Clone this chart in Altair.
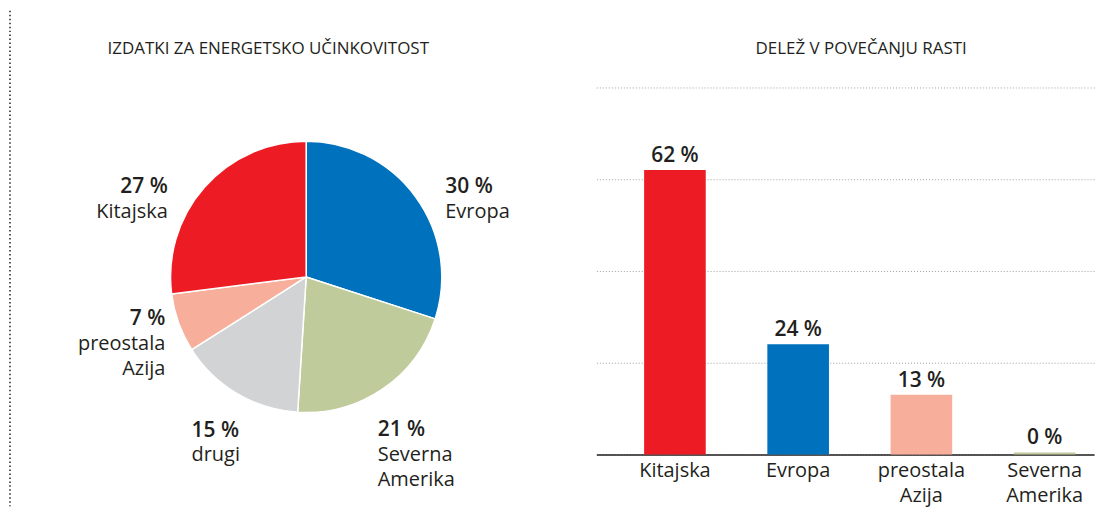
import altair as alt
import pandas as pd

# ---------------- data ----------------
pie_regions = ["Evropa", "Severna Amerika", "drugi", "preostala Azija", "Kitajska"]
pie_values = [30, 21, 15, 7, 27]

bar_regions = ["Kitajska", "Evropa", "preostala Azija", "Severna Amerika"]
bar_values = [62, 24, 13, 0.45]

grid_ticks = [0, 20, 40, 60, 80]

pie_title = "IZDATKI ZA ENERGETSKO UČINKOVITOST"
bar_title = "DELEŽ V POVEČANJU RASTI"

# ---------------- style ----------------
FONT = "Open Sans"
INK = "#231F20"
region_colors = {
    "Kitajska": "#ED1C24",
    "Evropa": "#0071BC",
    "Severna Amerika": "#BFCB9A",
    "drugi": "#D1D3D4",
    "preostala Azija": "#F7AE9B",
}
color_scale = alt.Scale(domain=list(region_colors.keys()), range=list(region_colors.values()))

# label nudges (align, dx, dy) relative to the slice mid-angle at the label radius
label_style = {
    "Evropa": ("left", 6, 13),
    "Severna Amerika": ("left", -21, 23.5),
    "drugi": ("left", -31, 18),
    "preostala Azija": ("right", 14, -7.9),
    "Kitajska": ("right", -15, 25),
}
LABEL_R = 165

pie_df = pd.DataFrame({"region": pie_regions, "value": pie_values,
                       "idx": list(range(len(pie_regions)))})
bar_df = pd.DataFrame({"region": bar_regions, "value": bar_values})

title_style = dict(font=FONT, fontSize=17, fontWeight="normal", color=INK,
                   anchor="middle", frame="group", offset=17, baseline="alphabetic")

# ---------------- left dotted rule ----------------
rule_cell = alt.Chart(pd.DataFrame({"k": [0]})).mark_rule(
    color=INK, strokeWidth=1.5, strokeDash=[1.5, 2.5]
).encode(x=alt.value(0), y=alt.value(-77), y2=alt.value(420)).properties(width=6, height=380)

# ---------------- pie panel ----------------
base = alt.Chart(pie_df).encode(
    theta=alt.Theta("value:Q", stack=True),
    order=alt.Order("idx:Q"),
)
arcs = base.mark_arc(radius=136, stroke="white", strokeWidth=1.5).encode(
    color=alt.Color("region:N", scale=color_scale, legend=None)
)

layers = [arcs]
for reg, (al, dx, dy) in label_style.items():
    pct = base.transform_calculate(
        t=f"datum.region == '{reg}' ? format(datum.value, '.0f') + ' %' : ''"
    ).mark_text(
        radius=LABEL_R, align=al, baseline="alphabetic", dx=dx, dy=dy,
        font=FONT, fontSize=21, fontWeight=600, color=INK,
    ).encode(text="t:N")
    name = base.transform_calculate(
        t=f"datum.region == '{reg}' ? datum.region : ''"
    ).mark_text(
        radius=LABEL_R, align=al, baseline="alphabetic", dx=dx, dy=dy + 25,
        font=FONT, fontSize=20, color=INK, lineBreak=" ", lineHeight=25,
    ).encode(text="t:N")
    layers += [pct, name]

pie = alt.layer(*layers).properties(
    width=582, height=380,
    title=alt.Title(pie_title, dx=-38, **title_style),
)

# ---------------- bar panel ----------------
bar_base = alt.Chart(bar_df).encode(
    x=alt.X("region:N", sort=bar_regions,
            scale=alt.Scale(paddingInner=0.5, paddingOuter=0.269, align=0.72),
            axis=alt.Axis(title=None, labelExpr="split(datum.label, ' ')",
                          labelFont=FONT, labelFontSize=20, labelColor=INK,
                          labelPadding=6, labelLineHeight=25, labelAngle=0,
                          ticks=False, domainColor=INK, domainWidth=1.5)),
    y=alt.Y("value:Q", scale=alt.Scale(domain=[0, 80]),
            axis=alt.Axis(values=grid_ticks, title=None, labels=False, ticks=False,
                          domain=False, grid=True, gridDash=[1, 2],
                          gridColor="#A0A0A0", gridWidth=1)),
)
bars = bar_base.mark_bar().encode(color=alt.Color("region:N", scale=color_scale, legend=None))
bar_text = bar_base.transform_calculate(
    lab="format(datum.value, '.0f') + ' %'"
).mark_text(baseline="alphabetic", dy=-8, font=FONT, fontSize=21, fontWeight=600,
            color=INK).encode(text="lab:N")

bar_chart = alt.layer(bars, bar_text).properties(
    width=499, height=368,
    title=alt.Title(bar_title, dx=16, **title_style),
)

chart = alt.hconcat(rule_cell, pie, bar_chart, spacing=0, bounds="flush").properties(
    padding=0
).configure_view(stroke="transparent")

chart.save("out.html", embed_options={"renderer": "svg", "actions": False})
